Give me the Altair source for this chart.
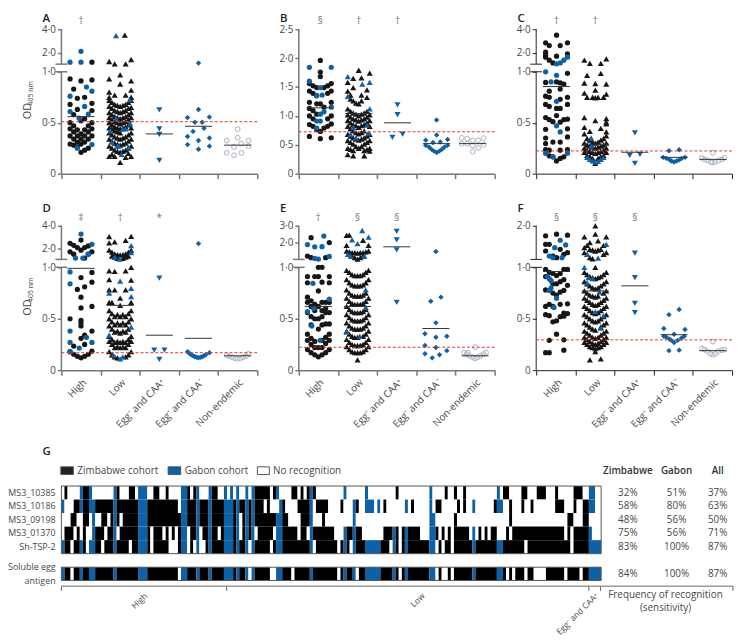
import altair as alt
import pandas as pd

FONT = "Open Sans"
INK = "#484848"
BK = "#161616"
BL = "#0b62a8"
GY = "#a9b4bf"
RED = "#e5372c"
H = 146
W = 198

# ---------- panel A ----------
A_high = {-3:[.93,.68,.50,.44,.37,.29],-2:[.83,.58,.47,.41,.34,.28],-1:[.74,.63,.43,.37,.31,.26],0:[.91,.52,.39,.34,.29,.21],
          1:[.75,.54,.43,.37,.31,.23],2:[.47,.41,.34,.25],3:[1.17,.92,.69,.62,.50,.44,.37]}
A_high_b = [(-3,1.17),(0,1.17),(0,2.1),(-3,.76),(-3,.61),(1.5,.85),(3,.81),(1,.66),(2,.585),(-.5,.545),(-1,.25),(3,.285)]
A_low = {-4:[1.23,.93,.80,.75,.72,.66,.60,.55,.50,.45,.40,.34,.27,.17],-3:[.70,.64,.58,.53,.48,.44,.38,.32,.25,.19],
         -2:[1.03,.77,.68,.62,.56,.51,.46,.42,.36,.30,.23,.17],-1:[.67,.61,.55,.50,.45,.41,.35,.29,.22],
         0:[.97,.88,.66,.60,.54,.49,.44,.40,.34,.28,.21,.11],1:[.67,.61,.55,.50,.45,.35,.29,.22],
         1.7:[3.5],2:[1.03,.77,.68,.62,.56,.51,.46,.36,.30,.23,.16],3:[.70,.64,.58,.53,.48,.38,.32,.25,.2],
         4:[1.4,.91,.82,.75,.72,.65,.60,.55,.45,.40,.34,.27,.17]}
A_low_b = [(-1.5,3.46),(3.5,.725),(-1.5,.545),(-3.5,.42),(3.7,.49),(1,.44),(2,.44),(-3,.31),(-1,.27),(-.5,.27),(3,.26),(.5,.19)]
A_pos = [(0,.625),(0,.44),(0,.385),(0,.13)]
A_neg = [(0,1.09),(0,.63),(-3,.55),(3,.555),(-1,.505),(1,.505),(-1.5,.415),(1.5,.445),(-3,.365),(3,.35),(0,.325),(-3,.285),(3,.27),(0,.24)]
A_non = [(0,.437),(0,.353),(-3,.325),(3,.325),(1,.295),(-1,.262),(3,.27),(-3,.204),(-1,.18),(1,.204)]
A_means = [.56,.51,.39,.465,.28]

# ---------- panel B ----------
B_high = {-3:[1.56,1.43,1.235,1.13,1.0,.85,.645],-2:[1.52,1.39,1.09,.95,.82],-1:[1.49,1.35,1.21,1.03,.76],
          0:[1.96,1.76,1.68,1.21,.73,.605],1:[1.49,1.15,.79],2:[1.52,1.39,.95,.82],3:[1.56,1.43,1.235,1.0,.86,.62]}
B_high_b = [(-3,1.84),(3,1.84),(-3,1.60),(0,1.49),(-1,1.35),(.5,1.36),(3,1.15),(0,1.03),(1,1.07),(-1,.91),(0,.91),(-1,.79)]
B_low = {-4:[1.58,1.43,1.12,1.02,.92,.82,.68,.57,.44,.33],-3:[1.36,1.29,1.08,.98,.88,.78,.65,.54,.42],
         -2:[1.65,1.49,1.26,1.05,.95,.85,.74,.62,.51,.40,.31],-1:[1.22,1.03,.93,.83,.71,.60,.47],
         0:[1.79,1.21,1.0,.91,.80,.69,.58,.44],1:[1.66,1.36,1.26,1.03,.93,.83,.71,.60,.47],
         2:[1.05,.95,.85,.74,.62,.51,.40,.31],3:[1.45,1.32,1.08,.98,.88,.65,.54,.42],4:[1.74,1.02,.92,.82,.68,.57,.44,.39]}
B_low_b = [(-4,1.68),(4,1.58),(1.3,1.55),(-4,1.34),(4,1.12),(-2,.80),(3,.84),(-3,.68),(-1,.62),(3.5,.70)]
B_pos = [(0,1.19),(0,1.02),(-1.4,.63),(1.4,.685)]
B_neg = [(0,.93),(0,.67),(-3,.58),(3,.59),(-1,.54),(1,.55),(-3,.49),(-2.1,.46),(-1.4,.42),(-.7,.39),(0,.365),(.7,.39),(1.4,.42),(2.1,.46),(3,.49)]
B_non = [(-3,.62),(-1.5,.605),(3,.615),(0,.575),(1.5,.575),(-3,.52),(-1.5,.52),(0,.49),(3,.50),(1.5,.445),(0,.38)]
B_means = [1.14,1.04,.88,.52,.52]

# ---------- panel C ----------
C_high = {-3:[2.83,2.03,1.77,1.6,.895,.76,.68,.55,.435,.35,.295,.235],-2:[2.6,1.34,.81,.75,.66,.53,.23,.175],-1:[1.11,.51,.31,.165],
          0:[3.49,1.69,.9,.64,.57,.125],1:[2.6,.89,.83,.73,.64,.505,.31,.23,.15],2:[.88,.53,.165],3:[2.83,1.89,.985,.75,.68,.535,.44,.36,.235]}
C_high_b = [(-3,1.0),(0,.965),(-1.5,.90),(0,.71),(0,1.03),(1,1.11),(2,1.34),(3,1.6),(0,.47),(1,.41),(-3,.2),(-1,.165),(3,.2)]
C_low = {-4:[1.34,.89,.79,.55,.455,.39,.30,.25,.21],-3:[.965,.75,.345,.28,.23,.18],-2:[1.06,.415,.33,.27,.22,.17],
         -1:[.75,.31,.26,.21,.15],0:[.885,.82,.745,.52,.30,.25,.2,.10],1:[.75,.31,.26,.21,.15],
         2:[1.06,.985,.445,.33,.27,.22,.17],3:[.75,.345,.28,.23,.18],4:[1.46,.88,.78,.54,.505,.49,.41,.37,.30,.25,.21]}
C_low_b = [(-1.5,.35),(-1.5,.27),(-3,.16),(-2,.14),(-1,.125),(0,.115),(1,.12),(2,.14),(3,.16)]
C_pos = [(0,.40),(-1.4,.18),(1.4,.19),(0,.10)]
C_neg = [(-1.4,.225),(1.4,.235),(-3,.16),(-2.1,.15),(-1.2,.135),(-.7,.125),(0,.115),(.7,.125),(1.4,.135),(2.1,.15),(3,.16)]
C_non = [(0,.205),(-3,.155),(-2.3,.14),(-1.5,.13),(-.6,.115),(0,.11),(.7,.115),(1.6,.13),(2.5,.14),(3.2,.155)]
C_means = [.855,.29,.21,.16,.14]

# ---------- panel D ----------
D_high = {-3:[2.44,1.68,.5,.18],-2:[2.26,1.47,.235,.155],-1:[2.06,.785,.135],0:[2.73,1.82,.9,.71,.605,.485,.46,.43,.31,.12],
          1:[2.06,1.12,.81,.34,.25,.135],2:[2.2,1.47,.155],3:[1.68,.95,.855,.62,.38,.185]}
D_high_b = [(0,3.26),(3,2.35),(-1.5,1.12),(.5,1.12),(2,1.47),(-3,.955),(-3,.84),(-3,.38),(1.5,.32),(-3,.27),(3,.27),(-.5,.215),(-3,.18)]
D_low = {-4:[3.03,2.47,1.82,.965,.88,.78,.66,.58,.50,.43,.33,.28,.18],-3:[1.65,1.3,.66,.55,.47,.40,.30,.25,.15],
         -2:[2.56,1.5,1.2,.96,.78,.52,.44,.37,.27,.22,.13],-1:[1.42,1.1,.54,.46,.38,.28,.23,.12],
         0:[1.4,.70,.63,.52,.44,.36,.27,.22],1:[1.42,1.1,.54,.46,.38,.28,.23],
         2:[2.7,1.5,1.2,.965,.78,.52,.44,.37,.27,.22,.13],3:[1.65,1.3,.55,.47,.40,.30,.25,.15],4:[3.06,1.82,1.0,.875,.66,.58,.50,.33,.28,.18]}
D_low_b = [(4,2.23),(4,1.6),(-2,1.2),(-.2,1.02),(0,.865),(4,.795),(-4,.75),(4,.715),(4,.42),(-4,.34),(-2.5,.145),(0,.11),(1,.13)]
D_pos = [(0,.895),(-1.4,.195),(1.4,.195),(0,.105)]
D_neg = [(0,2.41),(-3,.18),(-2.5,.165),(-2,.15),(-1.5,.14),(-1,.13),(-.5,.125),(0,.12),(.5,.125),(1,.13),(1.5,.14),(2,.15),(3,.17)]
D_non = [(-3,.145),(-2.3,.135),(-1.5,.125),(-.7,.115),(0,.11),(.7,.115),(1.5,.125),(2.3,.135),(3,.16)]
D_means = [.99,.63,.34,.31,.14]

# ---------- panel E ----------
E_high = {-3:[1.2,.91,.85,.71,.66,.56,.35,.29,.2],-2:[2.29,1.1,.675,.62,.52,.44,.31,.25,.17],-1:[.91,.64,.58,.50,.28,.22,.15],
          0:[1.0,.91,.77,.62,.50,.40,.22,.13],1:[1.0,.855,.66,.58,.52,.44,.29,.22,.15],2:[1.1,.66,.6,.56,.45,.32,.26,.17],3:[2.0,.91,.85,.66,.56,.45,.35,.29,.2]}
E_high_b = [(1.5,2.39),(-3,1.88),(-1,1.75),(1,1.76),(-1,1.06),(0,1.02),(3,1.18),(-1.5,.845),(3,.69),(-3,.57),(-1.3,.60),(-1.8,.43),(.5,.29)]
E_low = {-4:[2.43,1.84,1.5,.97,.88,.78,.70,.62,.54,.46,.38,.30,.23],-3:[2.45,1.45,.95,.85,.75,.67,.59,.51,.43,.35,.27,.20],
         -2:[1.4,1.2,.93,.83,.73,.65,.57,.49,.41,.33,.25,.18],-1:[1.4,1.1,.92,.82,.72,.64,.56,.48,.40,.32,.24,.17],
         0:[1.38,1.02,.92,.82,.72,.64,.56,.48,.40,.32,.24,.17,.10],1:[1.4,1.1,.92,.82,.72,.64,.56,.48,.40,.24,.17],
         2:[2.14,1.4,1.2,.93,.83,.73,.65,.57,.49,.41,.33,.25,.18],3:[1.45,.95,.85,.75,.67,.59,.51,.43,.35,.27,.20],
         4:[1.84,1.5,.97,.88,.70,.54,.46,.38,.30,.23]}
E_low_b = [(1.7,2.72),(4,2.33),(-2,2.16),(0,1.94),(-3.5,1.3),(-2.5,1.2),(2.5,1.2),(3,.78),(3,.61),(-4,.37),(.8,.33)]
E_pos = [(0,2.67),(0,2.16),(0,1.57),(0,.66)]
E_neg = [(0,1.47),(-1.4,.67),(1.4,.71),(0,.46),(-3,.355),(0,.32),(3,.33),(-3,.24),(0,.22),(3,.19),(-3,.16),(1,.15),(-1,.12)]
E_non = [(0,.225),(-3,.17),(3,.17),(-2.3,.155),(-1.5,.14),(-.7,.125),(0,.115),(.7,.125),(1.5,.14),(2.3,.155),(-2,.17)]
E_means = [.62,.62,1.75,.405,.14]

# ---------- panel F ----------
F_high = {-3:[1.7,1.45,1.25,.98,.91,.78,.62,.54,.17],-2:[1.45,.95,.64,.53,.29,.17],-1:[1.1,.94,.84,.75,.62,.47],
          0:[1.75,1.05,.92,.84,.73,.48,.35],1:[1.3,.94,.86,.76,.64,.52],2:[1.15,.98,.88,.775,.555,.525,.295,.195],3:[1.72,1.2,.98,.825,.645,.55]}
F_high_b = [(-.5,1.35),(1,1.57),(2.5,1.43),(-2,1.1),(-1,1.05),(1.5,1.05),(-2.5,.91),(-2,.89),(-1.5,.87),(-1.5,.8),(-2,.775),(0,.70),(-.7,.61)]
F_low = {-4:[1.67,1.35,1.2,.95,.86,.77,.70,.62,.54,.46,.38,.32,.27],-3:[1.42,1.15,.93,.84,.75,.68,.60,.52,.44,.36,.30,.25],
         -2:[1.5,1.3,1.05,.91,.82,.73,.66,.58,.50,.42,.34,.28,.23,.10],-1:[1.28,1.02,.90,.80,.72,.64,.56,.48,.40,.32,.26,.22],
         0:[2.0,1.75,1.25,1.0,.89,.79,.71,.63,.55,.47,.39,.31,.25,.21,.18],1:[1.55,1.28,.90,.80,.72,.64,.56,.48,.32,.26,.22],
         2:[1.3,.91,.82,.66,.58,.50,.42,.34,.28,.23,.11],3:[1.42,1.15,.93,.84,.75,.68,.60,.52,.44,.36,.30,.25],
         4:[1.67,1.2,.95,.86,.77,.70,.62,.54,.46,.38,.32,.27]}
F_low_b = [(4,1.45),(-3,1.15),(1,1.04),(-4,1.0),(-2.5,.9),(-1,.89),(-3,.85),(1.5,.76),(0,.57),(3,.53),(2,.41)]
F_pos = [(0,1.19),(0,.90),(0,.65),(0,.56)]
F_neg = [(1.4,.59),(-1.4,.54),(-2.8,.405),(3,.395),(0,.35),(-2.8,.33),(-2.1,.32),(-1.2,.30),(-.7,.29),(0,.27),(1,.29),(2,.31),(2.8,.33),(-1.4,.19),(1.4,.195)]
F_non = [(0,.28),(-3,.21),(-2.3,.20),(-1.5,.185),(-.7,.16),(0,.15),(.7,.16),(1.5,.185),(2.5,.195),(3.2,.2)]
F_means = [.96,.77,.82,.345,.19]

GROUP_LABELS = ["High", "Low", "Egg\u207b and CAA\u207a", "Egg\u207b and CAA\u207b", "Non-endemic"]

# ---------- panel G ----------
ANTIGENS = ["MS3_10385", "MS3_10186", "MS3_09198", "MS3_01370", "Sh-TSP-2"]
BLUE_COLS = [(0,1),(6,7),(9,11),(17,18),(25,28),(39,41),(44,45),(48,49),(53,56),(57,58),(60,61),(62,63),(70,72),(81,82),(92,93),(95,96),(99,104),(108,109),(112,113),(120,122),(134,135),(142,144),(172,176)]
W1 = [(0,1),(2,6),(10,17),(19,22),(24,25),(28,30),(32,34),(35,39),(42,43),(45,48),(51,53),(54,55),(56,57),(58,60),(61,62),(68,69),(71,75),(77,78),(79,80),(83,92),(93,99),(100,109),(110,120),(121,125),(126,128),(129,131),(132,142),(143,144),(146,150),(152,155),(158,161),(162,167),(170,172),(174,176)]
W2 = [(1,4),(38,39),(66,67),(68,71),(73,77),(82,83),(87,91),(92,95),(97,99),(102,103),(104,105),(106,112),(113,114),(115,120),(121,122),(124,129),(130,131),(132,134),(135,141),(144,146),(147,150),(151,153),(154,161),(164,167),(168,170),(174,176)]
W3 = [(0,3),(5,7),(9,10),(11,13),(15,16),(19,20),(58,59),(74,78),(82,85),(86,95),(96,120),(122,128),(129,146),(147,165),(167,170),(172,176)]
W4 = [(0,1),(4,5),(6,7),(8,10),(14,15),(18,19),(29,30),(33,34),(35,36),(37,38),(41,42),(45,46),(51,52),(58,59),(63,64),(69,70),(77,78),(80,81),(89,92),(98,105),(110,111),(117,120),(123,124),(125,126),(127,128),(133,134),(135,136),(137,138),(139,140),(142,145),(146,147),(164,165),(166,167),(173,176)]
W5 = [(3,4),(8,9),(13,14),(22,23),(29,30),(35,38),(41,42),(43,44),(45,47),(61,62),(68,69),(82,83),(90,91),(94,95),(107,108),(110,111),(122,123),(124,125),(127,128),(151,152),(166,167)]
W_SEA = [(3,4),(38,39),(61,62),(68,70),(75,76),(90,91),(96,97),(110,111),(122,123),(124,126),(127,128),(145,146),(147,148),(151,152),(154,158),(164,165),(169,170)]
PCT_ROWS = [["32%","51%","37%"],["58%","80%","63%"],["48%","56%","50%"],["75%","56%","71%"],["83%","100%","87%"]]
PCT_SEA = ["84%","100%","87%"]
PCT_HEAD = ["Zimbabwe","Gabon","All"]
N_COLS = 176


def panel(letter, groups, non_pts, means, red, marks, ydomain, yrange, yticks, breakv, axcol, axw, centers, od=False, xlabels=False, letter_y=-10):
    xs = alt.Scale(domain=[0, 5], range=[0, W], nice=False, zero=False)
    ys = alt.Scale(domain=ydomain, range=yrange, nice=False, zero=False)
    lab = "datum.value==0?'0':replace(format(datum.value,'.1f'),'.','\u00b7')"
    X = alt.X("x:Q", scale=xs, title=None, axis=alt.Axis(values=[0,1,2,3,4,5], labels=False, tickSize=5, tickColor=axcol, tickWidth=axw, domainColor=axcol, domainWidth=axw, grid=False))
    Y = alt.Y("y:Q", scale=ys, title=None, axis=alt.Axis(values=yticks, labelExpr=lab, domain=False, tickSize=4, tickColor=axcol, tickWidth=axw, grid=False, labelFont=FONT, labelFontSize=10, labelColor=INK, labelPadding=2))
    layers = []
    top = ydomain[-1]
    segs = [(0, top)] if breakv is None else [(0, 1.0), (breakv, top)]
    layers.append(alt.Chart(pd.DataFrame(segs, columns=["y", "y2"])).mark_rule(color=axcol, strokeWidth=axw).encode(x=alt.value(0), y=Y, y2="y2:Q"))
    if breakv is not None:
        bdf = pd.DataFrame({"y": [1.0, breakv], "x": [-0.15, -0.15], "x2": [0.15, 0.15]})
        layers.append(alt.Chart(bdf).mark_rule(color=axcol, strokeWidth=axw).encode(x=X, x2="x2:Q", y=Y))
    SIZES = {"circle": 28, "triangle-up": 38, "triangle-down": 38, "diamond": 30}
    for shape, step, i, black, blue in groups:
        rows = []
        c = centers[i]
        for col, vals in black.items():
            rows += [{"x": c + col * step, "y": v, "k": BK} for v in vals]
        for col, v in blue:
            rows.append({"x": c + col * step, "y": v, "k": BL})
        layers.append(alt.Chart(pd.DataFrame(rows)).mark_point(filled=True, shape=shape, size=SIZES[shape], opacity=1, strokeWidth=0).encode(
            x=X, y=Y, color=alt.Color("k:N", scale=None, legend=None)))
    ndf = pd.DataFrame([{"x": centers[4] + col * 0.093, "y": v} for col, v in non_pts])
    layers.append(alt.Chart(ndf).mark_point(filled=False, shape="circle", size=24, color=GY, strokeWidth=1, opacity=1).encode(x=X, y=Y))
    mdf = pd.DataFrame([{"x": centers[i] - 0.345, "x2": centers[i] + 0.345, "y": m} for i, m in enumerate(means)])
    layers.append(alt.Chart(mdf).mark_rule(color="#333333", strokeWidth=1).encode(x=X, x2="x2:Q", y=Y))
    layers.append(alt.Chart(pd.DataFrame({"x": [0.0], "x2": [5.05], "y": [red]})).mark_rule(color=RED, strokeWidth=1, strokeDash=[3, 2]).encode(x=X, x2="x2:Q", y=Y))
    sdf = pd.DataFrame([{"x": centers[i], "t": t} for i, t in enumerate(marks)])
    layers.append(alt.Chart(sdf).mark_text(font=FONT, fontSize=10, color="#777777").encode(x=X, y=alt.value(-8), text="t:N"))
    layers.append(alt.Chart(pd.DataFrame({"t": [letter]})).mark_text(font=FONT, fontSize=11.5, fontWeight=600, color="#222222", align="left").encode(x=alt.value(-19), y=alt.value(letter_y), text="t:N"))
    if od:
        layers.append(alt.Chart(pd.DataFrame({"t": ["OD"]})).mark_text(font=FONT, fontSize=11, color=INK, angle=270, align="left").encode(x=alt.value(-34), y=alt.value(91), text="t:N"))
        layers.append(alt.Chart(pd.DataFrame({"t": ["405 nm"]})).mark_text(font=FONT, fontSize=7, color=INK, angle=270, align="left").encode(x=alt.value(-31), y=alt.value(77), text="t:N"))
    if xlabels:
        ldf = pd.DataFrame([{"x": centers[i] + 0.1, "t": t} for i, t in enumerate(GROUP_LABELS)])
        layers.append(alt.Chart(ldf).mark_text(font=FONT, fontSize=10, color=INK, angle=315, align="right", baseline="middle").encode(x=X, y=alt.value(H + 11), text="t:N"))
    return alt.layer(*layers).properties(width=W, height=H)


CT = [.5, 1.5, 2.5, 3.5, 4.5]
T, D, N = "triangle-up", "diamond", "triangle-down"


def grp(h, hb, l, lb, p, n):
    return [("circle", .093, 0, h, hb), (T, .07, 1, l, lb), (N, .093, 2, {}, p), (D, .093, 3, {}, n)]


HI = 1.0001
pA = panel("A", grp(A_high, A_high_b, A_low, A_low_b, A_pos, A_neg), A_non, A_means, .51, ["\u2020"], [0,1,HI,4], [H,43,35.3,0], [0,.5,1,2,4], HI, "#777777", 1.5, CT, od=True)
pB = panel("B", grp(B_high, B_high_b, B_low, B_low_b, B_pos, B_neg), B_non, B_means, .725, ["\u00a7","\u2020","\u2020"], [0,2.5], [H,0], [0,.5,1,1.5,2,2.5], None, "#777777", 1.5, [.55,1.53,2.52,3.52,4.44])
pC = panel("C", grp(C_high, C_high_b, C_low, C_low_b, C_pos, C_neg), C_non, C_means, .223, ["\u2020","\u2020"], [0,1,HI,4], [H,43,35.3,0], [0,.5,1,2,4], HI, "#222222", 1, [.52,1.51,2.52,3.52,4.51])
pD = panel("D", grp(D_high, D_high_b, D_low, D_low_b, D_pos, D_neg), D_non, D_means, .17, ["\u2021","\u2020","*"], [0,1,HI,4], [H,42,34,0], [0,.5,1,2,4], HI, "#777777", 1.5, CT, od=True, xlabels=True, letter_y=-17)
pE = panel("E", grp(E_high, E_high_b, E_low, E_low_b, E_pos, E_neg), E_non, E_means, .223, ["\u2020","\u00a7","\u00a7"], [0,1,HI,3], [H,42,34,0], [0,.5,1,2,3], HI, "#777777", 1.5, CT, xlabels=True, letter_y=-17)
pF = panel("F", grp(F_high, F_high_b, F_low, F_low_b, F_pos, F_neg), F_non, F_means, .295, ["\u00a7","\u00a7","\u00a7"], [0,1,HI,2], [H,42,34,0], [0,.5,1,2], HI, "#222222", 1, [.52,1.51,2.52,3.52,4.51], xlabels=True, letter_y=-17)

blue_set = {c for a, b in BLUE_COLS for c in range(a, b)}
cells = []
for r, whites in enumerate([W1, W2, W3, W4, W5, None, W_SEA]):
    if whites is None:
        continue
    wset = {c for a, b in whites for c in range(a, b)}
    start = 0
    def kind(c):
        return "#ffffff" if c in wset else (BL if c in blue_set else "#000000")
    for c in range(1, N_COLS + 1):
        if c == N_COLS or kind(c) != kind(start):
            cells.append({"x": start, "x2": c, "y": r, "y2": r + (1 if r < 6 else .98), "k": kind(start)})
            start = c
GW, GH = 679, 167
gx = alt.Scale(domain=[0, 219], range=[0, GW], nice=False, zero=False)
gy = alt.Scale(domain=[-4.71, 7.5], range=[0, GH], nice=False, zero=False)
GX = alt.X("x:Q", scale=gx, axis=None)
GY_ = alt.Y("y:Q", scale=gy, axis=None)
g = []
g.append(alt.Chart(pd.DataFrame(cells)).mark_rect(strokeWidth=0).encode(x=GX, x2="x2:Q", y=GY_, y2="y2:Q", color=alt.Color("k:N", scale=None, legend=None)))
frame = pd.DataFrame({"x": [0, 0], "x2": [N_COLS, N_COLS], "y": [0, 6], "y2": [5, 6.98]})
g.append(alt.Chart(frame).mark_rect(filled=False, stroke="#555555", strokeWidth=1).encode(x=GX, x2="x2:Q", y=GY_, y2="y2:Q"))
row_txt = pd.DataFrame([{"x": -1.9, "y": i + .5, "t": t} for i, t in enumerate(ANTIGENS)] + [{"x": -1.9, "y": 5.96, "t": "Soluble egg"}, {"x": -1.9, "y": 7.03, "t": "antigen"}])
g.append(alt.Chart(row_txt).mark_text(font=FONT, fontSize=9, color=INK, align="right").encode(x=GX, y=GY_, text="t:N"))
pcols = [184.7, 200.6, 214]
ptx = []
for i, row in enumerate(PCT_ROWS + [PCT_SEA]):
    for j, t in enumerate(row):
        ptx.append({"x": pcols[j], "y": (i + .5) if i < 5 else 6.5, "t": t})
g.append(alt.Chart(pd.DataFrame(ptx)).mark_text(font=FONT, fontSize=10, color=INK).encode(x=GX, y=GY_, text="t:N"))
g.append(alt.Chart(pd.DataFrame([{"x": pcols[j], "y": -1.1, "t": t} for j, t in enumerate(PCT_HEAD)])).mark_text(font=FONT, fontSize=10, fontWeight=600, color="#333333").encode(x=GX, y=GY_, text="t:N"))
sw = pd.DataFrame([{"x": -.2, "x2": 3.9, "k": "#222222"}, {"x": 34.8, "x2": 38.9, "k": BL}, {"x": 63.9, "x2": 67.8, "k": "#ffffff"}])
sw["y"], sw["y2"] = -1.42, -.85
g.append(alt.Chart(sw).mark_rect(stroke="#555555", strokeWidth=1).encode(x=GX, x2="x2:Q", y=GY_, y2="y2:Q", color=alt.Color("k:N", scale=None, legend=None)))
ltx = pd.DataFrame([{"x": 5.2, "y": -1.1, "t": "Zimbabwe cohort"}, {"x": 40.2, "y": -1.1, "t": "Gabon cohort"}, {"x": 69, "y": -1.1, "t": "No recognition"}])
g.append(alt.Chart(ltx).mark_text(font=FONT, fontSize=10, color=INK, align="left").encode(x=GX, y=GY_, text="t:N"))
g.append(alt.Chart(pd.DataFrame({"t": ["G"]})).mark_text(font=FONT, fontSize=11.5, fontWeight=600, color="#222222", align="left").encode(x=alt.value(-19), y=alt.value(30), text="t:N"))
g.append(alt.Chart(pd.DataFrame({"x": [0], "x2": [219], "y": [7.4]})).mark_rule(color="#666666", strokeWidth=1).encode(x=GX, x2="x2:Q", y=GY_))
g.append(alt.Chart(pd.DataFrame({"x": [0, 53.9, 172, 175.8, 219], "y": [7.4]*5, "y2": [7.75]*5})).mark_rule(color="#666666", strokeWidth=1).encode(x=GX, y=GY_, y2="y2:Q"))
br = pd.DataFrame([{"x": 27.5, "t": "High"}, {"x": 118, "t": "Low"}, {"x": 174.5, "t": GROUP_LABELS[2]}])
g.append(alt.Chart(br).mark_text(font=FONT, fontSize=8.5, color=INK, angle=315, align="right", baseline="middle").encode(x=GX, y=alt.value(GH + 7), text="t:N"))
fr = pd.DataFrame([{"x": 197, "y": 8.05, "t": "Frequency of recognition"}, {"x": 197, "y": 9.0, "t": "(sensitivity)"}])
g.append(alt.Chart(fr).mark_text(font=FONT, fontSize=10, color=INK).encode(x=GX, y=GY_, text="t:N"))
pG = alt.layer(*g).properties(width=W, height=GH)

chart = alt.concat(pA, pB, pC, pD, pE, pF, pG, columns=3, spacing={"row": 52.7, "column": 42}, bounds="flush").properties(
    autosize=alt.AutoSizeParams(type="none"),
    padding={"left": 54, "top": 18, "right": 680, "bottom": 614},
    background="white",
).configure_view(strokeWidth=0, stroke=None)
chart.save("out.html", embed_options={"renderer": "svg", "actions": False})
